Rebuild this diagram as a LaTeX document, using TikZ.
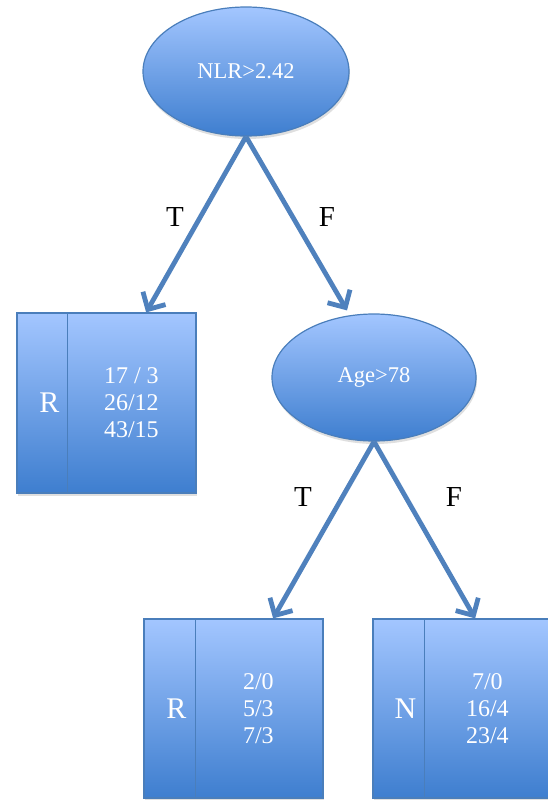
\documentclass[tikz,border=0pt]{standalone}
\usepackage{fontspec}
\setmainfont{Liberation Serif}
\usetikzlibrary{shapes.geometric,arrows.meta,calc,shadows}
\definecolor{fillTop}{HTML}{A3C6FF}
\definecolor{fillBot}{HTML}{3E7ECF}
\definecolor{edgeC}{HTML}{4A7EBB}
\definecolor{arrowC}{HTML}{4F81BD}
\tikzset{
  shade/.style={top color=fillTop, bottom color=fillBot, draw=edgeC, line width=1.2pt,
    drop shadow={shadow xshift=1pt, shadow yshift=-3pt, opacity=0.25}},
  decision/.style={shade, ellipse, inner sep=0pt, text=white, font=\fontsize{22.5}{26}\selectfont},
  leafbox/.style={shade, rectangle, inner sep=0pt, minimum width=179pt, minimum height=180pt},
  divline/.style={draw=edgeC, line width=1.2pt},
  classtxt/.style={text=white, font=\fontsize{30}{34}\selectfont},
  counttxt/.style={text=white, align=center, font=\fontsize{24}{27}\selectfont},
  branchtxt/.style={text=black, font=\fontsize{29}{32}\selectfont},
  branch/.style={draw=arrowC, line width=4.8pt, -{Straight Barb[length=13pt,width=26pt]}}
}
\begin{document}
\begin{tikzpicture}[x=1pt,y=-1pt]
\useasboundingbox (0,0) rectangle (548,800);
% decision nodes
\node[decision, minimum width=206pt, minimum height=129pt] (root) at (246,71.5) {NLR>2.42};
\node[decision, minimum width=204pt, minimum height=127pt] (age) at (374,377.5) {Age>78};
% leaves
\node[leafbox] (leafA) at (106.5,403) {};
\node[leafbox, minimum height=179pt] (leafB) at (233.5,708.5) {};
\node[leafbox, minimum height=179pt] (leafC) at (462.5,708.5) {};
\foreach \lf/\dv in {leafA/51,leafB/52,leafC/52}{
  \draw[divline] ($(\lf.north west)+(\dv,0)$) -- ($(\lf.south west)+(\dv,0)$);
}
\node[classtxt] (clsA) at ($(leafA.west)+(33,0)$) {R};
\node[counttxt] (cntA) at ($(leafA.west)+(115,0)$) {17 / 3\\26/12\\43/15};
\node[classtxt] (clsB) at ($(leafB.west)+(33,0)$) {R};
\node[counttxt] (cntB) at ($(leafB.west)+(115,0)$) {2/0\\5/3\\7/3};
\node[classtxt] (clsC) at ($(leafC.west)+(33,0)$) {N};
\node[counttxt] (cntC) at ($(leafC.west)+(115,0)$) {7/0\\16/4\\23/4};
% branches
\draw[branch] (root.south) -- ($(leafA.north west)!0.72!(leafA.north east)$);
\draw[branch] (root.south) -- ([xshift=-27pt,yshift=3pt]age.north);
\draw[branch] (age.south) -- ($(leafB.north west)!0.72!(leafB.north east)$);
\draw[branch] (age.south) -- ($(leafC.north west)!0.57!(leafC.north east)$);
% branch labels
\node[branchtxt] (lblT1) at (175,217) {T};
\node[branchtxt] (lblF1) at (327,217) {F};
\node[branchtxt] (lblT2) at (303,497) {T};
\node[branchtxt] (lblF2) at (454,497) {F};
\end{tikzpicture}
\end{document}
